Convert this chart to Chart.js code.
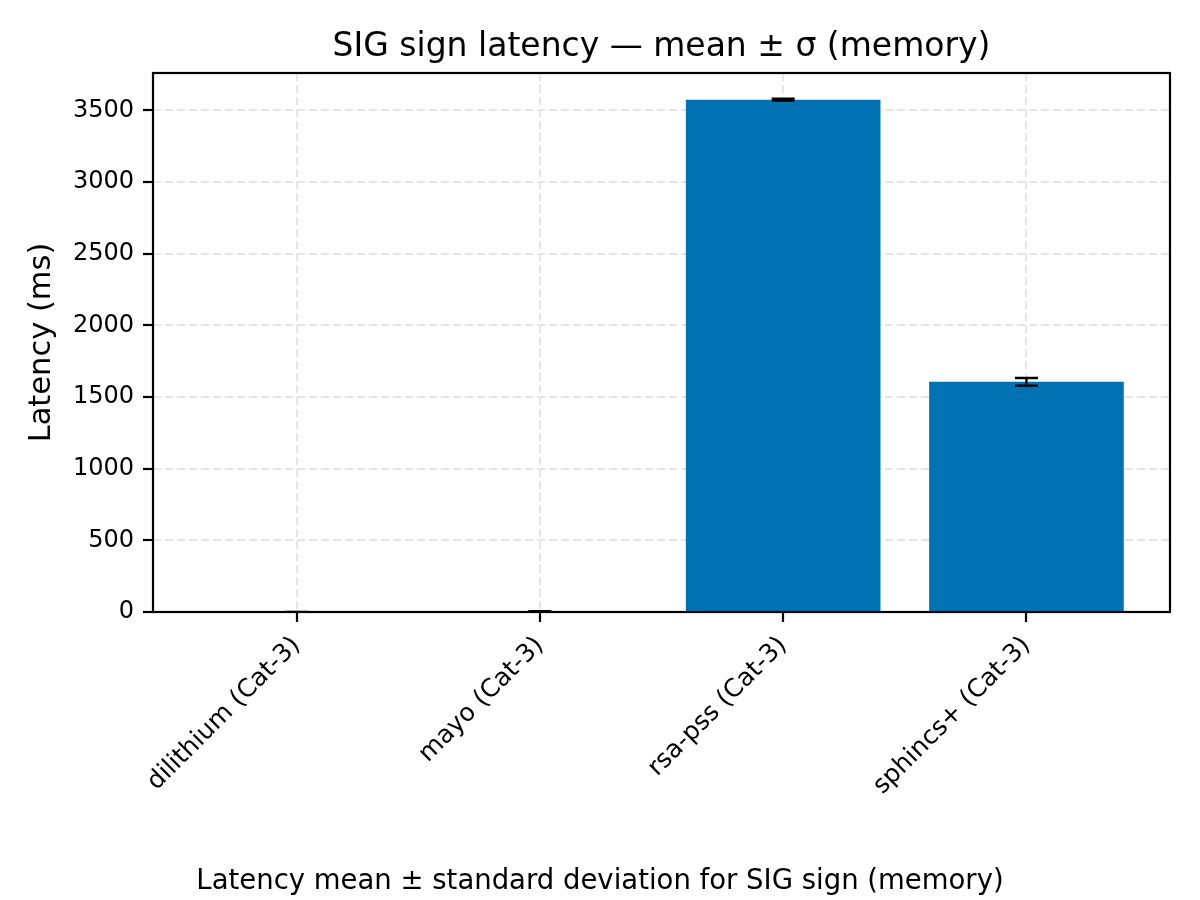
<!DOCTYPE html>
<html><head><meta charset="utf-8">
<script src="https://cdn.jsdelivr.net/npm/chart.js@4"></script>
<style>html,body{margin:0;padding:0;background:#fff}#wrap{width:1200px;height:900px}</style>
</head><body><div id="wrap"><canvas id="c" width="1200" height="900"></canvas></div>
<script>
const categories = ["dilithium (Cat-3)", "mayo (Cat-3)", "rsa-pss (Cat-3)", "sphincs+ (Cat-3)"];
const means = [0.5, 4, 3575, 1606];
const stds = [0.05, 2, 7, 27];
const yTicks = [0, 500, 1000, 1500, 2000, 2500, 3000, 3500];
const titleText = "SIG sign latency \u2014 mean \u00b1 \u03c3 (memory)";
const yLabel = "Latency (ms)";
const captionText = "Latency mean \u00b1 standard deviation for SIG sign (memory)";

const FONT = "'DejaVu Sans', sans-serif";
const yMax = Math.max(...means.map((m, i) => m + stds[i])) * 1.05;

const decor = {
  id: 'decor',
  afterDatasetsDraw(chart) {
    const {ctx, chartArea: a, scales: {x, y}} = chart;
    ctx.save();
    // error bars
    ctx.strokeStyle = '#000';
    ctx.lineWidth = 2.3;
    means.forEach((m, i) => {
      const px = x.getPixelForValue(i);
      const top = y.getPixelForValue(m + stds[i]);
      const bot = y.getPixelForValue(Math.max(0, m - stds[i]));
      ctx.beginPath();
      ctx.moveTo(px, top); ctx.lineTo(px, bot);
      ctx.moveTo(px - 11.5, top); ctx.lineTo(px + 11.5, top);
      ctx.moveTo(px - 11.5, bot); ctx.lineTo(px + 11.5, bot);
      ctx.stroke();
    });
    // frame
    ctx.lineWidth = 2.2;
    ctx.strokeRect(a.left, a.top, a.right - a.left, a.bottom - a.top);
    ctx.restore();
  },
  afterDraw(chart) {
    const {ctx, chartArea: a} = chart;
    ctx.save();
    ctx.fillStyle = '#000';
    ctx.textAlign = 'center';
    ctx.textBaseline = 'alphabetic';
    ctx.font = `33px ${FONT}`;
    ctx.fillText(titleText, (a.left + a.right) / 2, 56);
    ctx.font = `27.5px ${FONT}`;
    ctx.fillText(captionText, 600, 889);
    ctx.translate(42, (a.top + a.bottom) / 2);
    ctx.rotate(-Math.PI / 2);
    ctx.textBaseline = 'middle';
    ctx.font = `30.5px ${FONT}`;
    ctx.fillText(yLabel, 0, 0);
    ctx.restore();
  }
};

const gridOpts = {color: '#e6e6e6', lineWidth: 2, tickColor: '#000', tickLength: 10, tickWidth: 2.2, offset: false};

new Chart(document.getElementById('c'), {
  type: 'bar',
  data: {
    datasets: [{
      data: means.map((m, i) => ({x: i, y: m})),
      backgroundColor: '#0072B2',
      borderWidth: 0,
      barPercentage: 0.8,
      categoryPercentage: 1.0
    }]
  },
  options: {
    responsive: false,
    animation: false,
    devicePixelRatio: 1,
    layout: {padding: {left: 0, right: 30, top: 73, bottom: 0}},
    plugins: {legend: {display: false}, tooltip: {enabled: false}, title: {display: false}},
    scales: {
      x: {
        type: 'linear',
        offset: false,
        min: -0.59, max: 3.59,
        afterBuildTicks: s => { s.ticks = categories.map((_, i) => ({value: i})); },
        afterFit: s => { s.height = 288; },
        ticks: {
          callback: v => categories[v],
          minRotation: 45, maxRotation: 45,
          color: '#000', font: {family: FONT, size: 25}, padding: 9, autoSkip: false
        },
        grid: gridOpts,
        border: {display: false, dash: [8, 4]}
      },
      y: {
        type: 'linear',
        min: 0, max: yMax,
        afterBuildTicks: s => { s.ticks = yTicks.map(v => ({value: v})); },
        afterFit: s => { s.width = 153; },
        ticks: {color: '#000', font: {family: FONT, size: 24}, padding: 9, callback: v => String(v)},
        grid: gridOpts,
        border: {display: false, dash: [8, 4]}
      }
    }
  },
  plugins: [decor]
});
</script>
</body></html>
